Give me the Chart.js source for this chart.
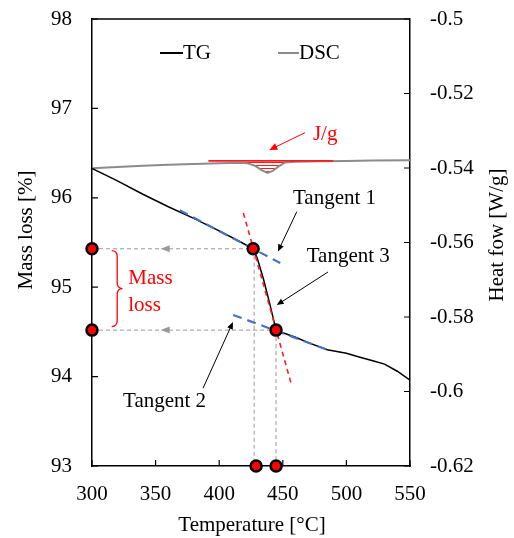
<!DOCTYPE html>
<html>
<head>
<meta charset="utf-8">
<script src="https://cdn.jsdelivr.net/npm/chart.js@4/dist/chart.umd.min.js"></script>
<style>
  html, body { margin: 0; padding: 0; background: #fff; }
  #wrap { width: 514px; height: 538px; }
</style>
</head>
<body>
<div id="wrap"><canvas id="c" width="514" height="538"></canvas></div>
<script>
// ---- TG curve: temperature [°C] vs mass [%] ----
const temperature = [300, 310, 320, 340, 360, 380, 400, 415, 426.7, 430, 435, 440, 444.7, 450, 460, 470, 485, 500, 510, 520, 530, 540, 550];
const massLoss    = [96.33, 96.26, 96.19, 96.04, 95.90, 95.77, 95.63, 95.52, 95.43, 95.32, 95.08, 94.80, 94.52, 94.49, 94.44, 94.38, 94.30, 94.26, 94.22, 94.18, 94.14, 94.06, 93.96];

// ---- DSC curve: temperature [°C] vs heat flow [W/g] ----
const dscTemperature = [300, 320, 340, 360, 380, 400, 415, 422, 428, 433, 438, 442, 447, 452, 460, 480, 500, 520, 550];
const heatFlow       = [-0.5401, -0.5397, -0.5394, -0.5391, -0.5389, -0.5387, -0.5386, -0.5387, -0.5394, -0.5405, -0.5413, -0.5408, -0.5395, -0.5385, -0.5383, -0.5382, -0.5381, -0.5380, -0.5379];

// enthalpy integration: baseline and hatched peak range
const enthalpyLineTemps = [391.5, 489.7];
const enthalpyLineValue = -0.5381;
const peakTemps = [419, 455];
const peakBaseValue = -0.5384;

// tangent construction
const tangent1Temps = [369, 448];  const tangent1Mass = [95.86, 95.27];
const tangent2Temps = [411, 485];  const tangent2Mass = [94.69, 94.30];
const tangent3Temps = [419, 457];  const tangent3Mass = [95.83, 93.90];

// onset / endset points and their projections onto the axes
const onsetTemps = [426.7, 444.7];
const onsetMass  = [95.43, 94.52];
const projectedTemps = [429, 444.7];
const guideTemps = [427.5, 444.7];

// axis ticks
const tempTicks = [300, 350, 400, 450, 500, 550];
const massTicks = [93, 94, 95, 96, 97, 98];
const heatTicks = [-0.62, -0.6, -0.58, -0.56, -0.54, -0.52, -0.5];

const serif = "'Liberation Serif', 'Times New Roman', serif";
const FONT = 21;
Chart.defaults.font.family = serif;
Chart.defaults.font.size = FONT;
Chart.defaults.color = '#000';

const xy = (xs, ys) => xs.map((x, i) => ({ x, y: Array.isArray(ys) ? ys[i] : ys }));

// horizontal red hatching for the peak area
const hatch = (() => {
  const c = document.createElement('canvas');
  c.width = 4; c.height = 3;
  const g = c.getContext('2d');
  g.fillStyle = '#ff1a1a';
  g.fillRect(0, 0, 4, 1);
  return g.createPattern(c, 'repeat');
})();

const markerPoints = [
  { x: tempTicks[0], y: onsetMass[0] },
  { x: tempTicks[0], y: onsetMass[1] },
  { x: onsetTemps[0], y: onsetMass[0] },
  { x: onsetTemps[1], y: onsetMass[1] },
  { x: projectedTemps[0], y: massTicks[0] },
  { x: projectedTemps[1], y: massTicks[0] }
];

const guideStyle = { borderColor: '#9a9a9a', borderWidth: 1, borderDash: [4, 3], pointRadius: 0, order: 5, yAxisID: 'y' };

const datasets = [
  { label: 'Markers', data: markerPoints, showLine: false, pointRadius: 5.5, pointBorderWidth: 2.5,
    pointBackgroundColor: '#ff0000', pointBorderColor: '#000', clip: false, order: 0, yAxisID: 'y' },
  { label: 'Tangent 3', data: xy(tangent3Temps, tangent3Mass), borderColor: '#ff2020', borderWidth: 1.6,
    borderDash: [5, 4], pointRadius: 0, order: 1, yAxisID: 'y' },
  { label: 'Tangent 1', data: xy(tangent1Temps, tangent1Mass), borderColor: '#4472c4', borderWidth: 2.2,
    borderDash: [9, 6], pointRadius: 0, order: 1, yAxisID: 'y' },
  { label: 'Tangent 2', data: xy(tangent2Temps, tangent2Mass), borderColor: '#4472c4', borderWidth: 2.2,
    borderDash: [9, 6], pointRadius: 0, order: 1, yAxisID: 'y' },
  { label: 'TG', data: xy(temperature, massLoss), borderColor: '#000', borderWidth: 1.5,
    pointRadius: 0, order: 2, yAxisID: 'y' },
  { label: 'Enthalpy line', data: xy(enthalpyLineTemps, enthalpyLineValue), borderColor: '#ff1a1a', borderWidth: 1.6,
    pointRadius: 0, order: 3, yAxisID: 'y1' },
  { label: 'DSC', data: xy(dscTemperature, heatFlow), borderColor: '#8c8c8c', borderWidth: 2,
    pointRadius: 0, order: 4, yAxisID: 'y1' },
  { label: 'Peak area', data: xy(peakTemps, peakBaseValue), borderWidth: 0, borderColor: 'rgba(0,0,0,0)',
    backgroundColor: hatch, fill: { target: 6 }, pointRadius: 0, order: 6, yAxisID: 'y1' },
  Object.assign({ label: 'guide h1', data: xy([tempTicks[0], onsetTemps[0]], onsetMass[0]) }, guideStyle),
  Object.assign({ label: 'guide h2', data: xy([tempTicks[0], onsetTemps[1]], onsetMass[1]) }, guideStyle),
  Object.assign({ label: 'guide v1', data: xy([guideTemps[0], guideTemps[0]], [onsetMass[0], massTicks[0]]) }, guideStyle),
  Object.assign({ label: 'guide v2', data: xy([guideTemps[1], guideTemps[1]], [onsetMass[1], massTicks[0]]) }, guideStyle)
];

// annotation layout (data coordinates)
const notes = {
  tangent1: { text: 'Tangent 1', t: 458, m: 95.99, from: [461, 95.845], to: [446.2, 95.40] },
  tangent3: { text: 'Tangent 3', t: 468.8, m: 95.34, from: [485.5, 95.17], to: [445.2, 94.80] },
  tangent2: { text: 'Tangent 2', t: 324.4, m: 93.72, from: [387.3, 93.87], to: [410.8, 94.61] },
  mass: { lines: ['Mass', 'loss'], t: 328.5, m: [95.10, 94.80] },
  brace: { t: [315.5, 319.8, 324], m: [95.41, 94.985, 94.56] },
  enthalpy: { text: 'J/g', t: 473.7, v: -0.5311, from: [467.5, -0.53052], to: [439.4, -0.53517] },
  guideArrowT: 354
};

function arrow(ctx, x0, y0, x1, y1, color, len, half) {
  ctx.save();
  ctx.strokeStyle = color; ctx.fillStyle = color; ctx.lineWidth = 1; ctx.setLineDash([]);
  const a = Math.atan2(y1 - y0, x1 - x0);
  ctx.beginPath();
  ctx.moveTo(x0, y0);
  ctx.lineTo(x1 - Math.cos(a) * len * 0.6, y1 - Math.sin(a) * len * 0.6);
  ctx.stroke();
  ctx.beginPath();
  ctx.moveTo(x1, y1);
  ctx.lineTo(x1 - len * Math.cos(a) + half * Math.sin(a), y1 - len * Math.sin(a) - half * Math.cos(a));
  ctx.lineTo(x1 - len * Math.cos(a) - half * Math.sin(a), y1 - len * Math.sin(a) + half * Math.cos(a));
  ctx.closePath();
  ctx.fill();
  ctx.restore();
}

const decor = {
  id: 'decor',
  afterDatasetsDraw(chart) {
    const { ctx, scales: { x, y, y1 } } = chart;
    ctx.save();
    ctx.font = FONT + 'px ' + serif;
    ctx.textBaseline = 'middle';
    ctx.textAlign = 'left';

    // grey arrowheads on the horizontal guides
    [onsetMass[0], onsetMass[1]].forEach(m => {
      const px = x.getPixelForValue(notes.guideArrowT), py = y.getPixelForValue(m);
      ctx.fillStyle = '#9a9a9a';
      ctx.beginPath();
      ctx.moveTo(px, py); ctx.lineTo(px + 9, py - 3.5); ctx.lineTo(px + 9, py + 3.5);
      ctx.closePath(); ctx.fill();
    });

    // tangent labels and pointers
    ['tangent1', 'tangent3', 'tangent2'].forEach(k => {
      const n = notes[k];
      ctx.fillStyle = '#000';
      ctx.fillText(n.text, x.getPixelForValue(n.t), y.getPixelForValue(n.m));
      arrow(ctx, x.getPixelForValue(n.from[0]), y.getPixelForValue(n.from[1]),
        x.getPixelForValue(n.to[0]), y.getPixelForValue(n.to[1]), '#000', 7, 3);
    });

    // mass loss label and brace
    ctx.fillStyle = '#ff0000';
    notes.mass.lines.forEach((s, i) => ctx.fillText(s, x.getPixelForValue(notes.mass.t), y.getPixelForValue(notes.mass.m[i])));
    const b = notes.brace;
    const bl = x.getPixelForValue(b.t[0]), bm = x.getPixelForValue(b.t[1]), br = x.getPixelForValue(b.t[2]);
    const bt = y.getPixelForValue(b.m[0]), bc = y.getPixelForValue(b.m[1]), bb = y.getPixelForValue(b.m[2]);
    const r = 6;
    ctx.strokeStyle = '#ff0000'; ctx.lineWidth = 1.3;
    ctx.beginPath();
    ctx.moveTo(bl, bt);
    ctx.quadraticCurveTo(bm, bt, bm, bt + r);
    ctx.lineTo(bm, bc - r);
    ctx.quadraticCurveTo(bm, bc, br, bc);
    ctx.quadraticCurveTo(bm, bc, bm, bc + r);
    ctx.lineTo(bm, bb - r);
    ctx.quadraticCurveTo(bm, bb, bl, bb);
    ctx.stroke();

    // enthalpy label
    const e = notes.enthalpy;
    ctx.fillStyle = '#ff0000';
    ctx.fillText(e.text, x.getPixelForValue(e.t), y1.getPixelForValue(e.v));
    arrow(ctx, x.getPixelForValue(e.from[0]), y1.getPixelForValue(e.from[1]),
      x.getPixelForValue(e.to[0]), y1.getPixelForValue(e.to[1]), '#ff0000', 8, 3.5);
    ctx.restore();
  },
  afterDraw(chart) {
    const { ctx, chartArea: a, scales: { x, y, y1 } } = chart;
    ctx.save();
    // frame top line
    ctx.strokeStyle = '#000'; ctx.lineWidth = 1.5;
    ctx.beginPath(); ctx.moveTo(a.left, a.top); ctx.lineTo(a.right, a.top); ctx.stroke();
    // inward tick marks
    ctx.lineWidth = 1.2;
    const tl = 6;
    ctx.beginPath();
    x.ticks.forEach(t => { const p = x.getPixelForValue(t.value); ctx.moveTo(p, a.bottom); ctx.lineTo(p, a.bottom - tl); });
    y.ticks.forEach(t => { const p = y.getPixelForValue(t.value); ctx.moveTo(a.left, p); ctx.lineTo(a.left + tl, p); });
    y1.ticks.forEach(t => { const p = y1.getPixelForValue(t.value); ctx.moveTo(a.right, p); ctx.lineTo(a.right - tl, p); });
    ctx.stroke();

    // legend
    ctx.font = FONT + 'px ' + serif;
    ctx.textBaseline = 'middle'; ctx.textAlign = 'left';
    const ly = a.top + 34;
    ctx.lineWidth = 2;
    ctx.strokeStyle = '#000';
    ctx.beginPath(); ctx.moveTo(a.left + 68, ly); ctx.lineTo(a.left + 91, ly); ctx.stroke();
    ctx.fillStyle = '#000'; ctx.fillText('TG', a.left + 91, ly);
    ctx.strokeStyle = '#8c8c8c';
    ctx.beginPath(); ctx.moveTo(a.left + 186, ly); ctx.lineTo(a.left + 207, ly); ctx.stroke();
    ctx.fillText('DSC', a.left + 207, ly);

    // axis titles
    ctx.textAlign = 'center';
    ctx.fillText('Temperature [°C]', (a.left + a.right) / 2 + 1, 525);
    ctx.save(); ctx.translate(26, 230); ctx.rotate(-Math.PI / 2); ctx.fillText('Mass loss [%]', 0, 0); ctx.restore();
    ctx.save(); ctx.translate(497, 235); ctx.rotate(-Math.PI / 2); ctx.fillText('Heat fow [W/g]', 0, 0); ctx.restore();
    ctx.restore();
  }
};

const setTicks = vals => s => { s.ticks = vals.map(v => ({ value: v })); };
const fmt = v => String(Number(v.toFixed(2)));
// fixed box sizes so the plot frame sits at 92..410 x 19..466
const fitVertical = w => s => { s.width = w; s.paddingTop = 19; s.paddingBottom = 0; };

new Chart(document.getElementById('c'), {
  type: 'line',
  data: { datasets },
  options: {
    responsive: false,
    animation: false,
    devicePixelRatio: 1,
    layout: { padding: 0 },
    plugins: { legend: { display: false }, tooltip: { enabled: false }, filler: { propagate: false } },
    scales: {
      x: {
        type: 'linear', position: 'bottom', min: 300, max: 550,
        grid: { display: false, drawTicks: false },
        border: { display: true, color: '#000', width: 1.5 },
        ticks: { padding: 16, maxRotation: 0, autoSkip: false, color: '#000', callback: v => fmt(v) },
        afterBuildTicks: setTicks(tempTicks),
        afterFit: s => { s.height = 72; s.paddingLeft = 0; s.paddingRight = 0; }
      },
      y: {
        type: 'linear', position: 'left', min: 93, max: 98,
        grid: { display: false, drawTicks: false },
        border: { display: true, color: '#000', width: 1.5 },
        ticks: { padding: 20, color: '#000', callback: v => fmt(v) },
        afterBuildTicks: setTicks(massTicks),
        afterFit: fitVertical(92)
      },
      y1: {
        type: 'linear', position: 'right', min: -0.62, max: -0.5,
        grid: { display: false, drawTicks: false },
        border: { display: true, color: '#000', width: 1.5 },
        ticks: { padding: 20, color: '#000', callback: v => fmt(v) },
        afterBuildTicks: setTicks(heatTicks),
        afterFit: fitVertical(104)
      }
    }
  },
  plugins: [decor]
});
</script>
</body>
</html>
